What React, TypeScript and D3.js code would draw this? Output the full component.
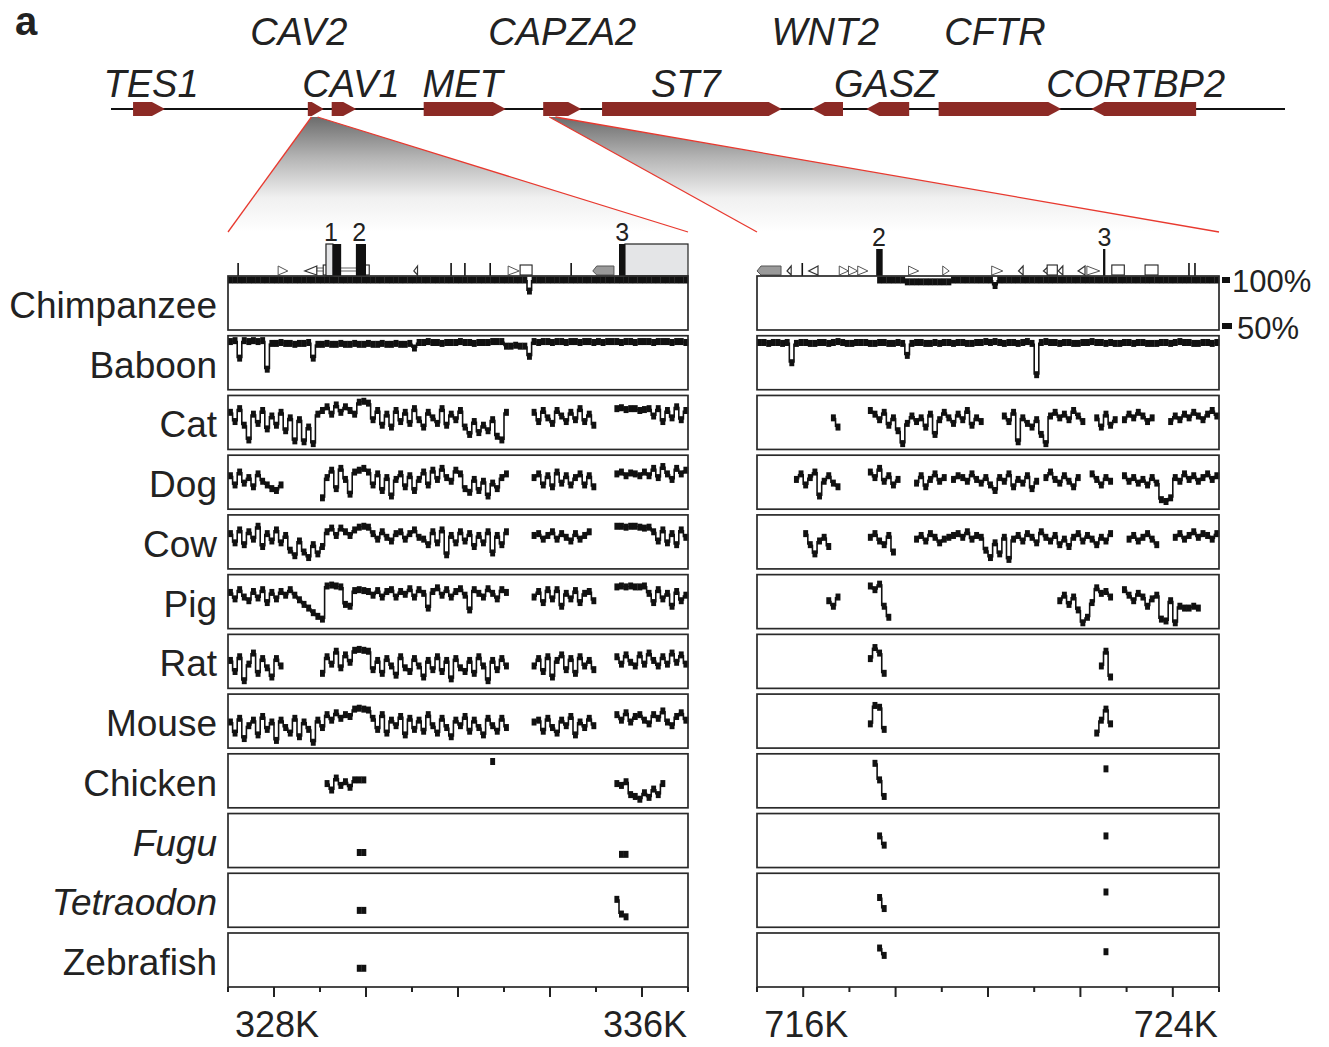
import React from "react";
import * as d3 from "d3";

const FONT = "'Liberation Sans', Arial, Helvetica, sans-serif";

const species = ["Chimpanzee", "Baboon", "Cat", "Dog", "Cow", "Pig", "Rat", "Mouse", "Chicken", "Fugu", "Tetraodon", "Zebrafish"];
const italicSpecies = ["Fugu", "Tetraodon"];

// gene track, positions in kb
const genes = [
  { name: "TES1", start: 36, end: 88, strand: 1, row: 2 },
  { name: "CAV2", start: 321, end: 347, strand: 1, row: 1 },
  { name: "CAV1", start: 360, end: 400, strand: 1, row: 2 },
  { name: "MET", start: 510, end: 644, strand: 1, row: 2 },
  { name: "CAPZA2", start: 705, end: 767, strand: 1, row: 1 },
  { name: "ST7", start: 801, end: 1094, strand: 1, row: 2 },
  { name: "WNT2", start: 1143, end: 1194, strand: -1, row: 1 },
  { name: "GASZ", start: 1232, end: 1302, strand: -1, row: 2 },
  { name: "CFTR", start: 1350, end: 1550, strand: 1, row: 1 },
  { name: "CORTBP2", start: 1599, end: 1770, strand: -1, row: 2 },
];
const trackExtent = [0, 1915];

// zoomed regions (kb) and their tick labels
const leftRegion = [327, 337];
const rightRegion = [715, 725];
const leftTickLabels = [328, 336];
const rightTickLabels = [716, 724];
const binKb = 0.1;

// annotation features above the panels (kb)
const leftExons = [[329.28, 329.46], [329.78, 330.0], [335.5, 335.63]];
const leftUtrs = [[329.13, 329.28], [335.63, 337.0]];
const leftTicks = [327.22, 331.85, 332.15, 332.7, 334.46, 336.96];
const leftRepFwd = [[328.09, 328.3], [333.09, 333.33]];
const leftRepRev = [[328.67, 328.93], [331.04, 331.12]];
const leftGrey = [[334.93, 335.39]];
const leftBoxes = [[329.07, 329.24], [329.9, 330.07], [333.35, 333.61]];
const leftTranscript = [[328.93, 330.05]];
const leftExonLabels = [{ t: "1", kb: 329.24 }, { t: "2", kb: 329.85 }, { t: "3", kb: 335.57 }];

const rightExons = [[717.58, 717.72], [722.49, 722.54]];
const rightGrey = [[715.0, 715.52]];
const rightTicks = [715.98, 724.35, 724.48];
const rightRepFwd = [[716.78, 716.98], [716.98, 717.18], [717.18, 717.4], [718.28, 718.5], [719.02, 719.16], [720.08, 720.32], [722.14, 722.42]];
const rightRepRev = [[715.65, 715.74], [716.12, 716.32], [720.66, 720.76], [721.2, 721.32], [721.52, 721.62], [721.95, 722.1]];
const rightBoxes = [[721.28, 721.5], [722.68, 722.95], [723.4, 723.68]];
const rightExonLabels = [{ t: "2", kb: 717.64 }, { t: "3", kb: 722.52 }];

// percent identity per 100 bp bin (0 = not aligned), left region 327-337K
const chimpL = [
  100,100,100,100,100,100,100,100,100,100, 100,100,100,100,100,100,100,100,100,100,
  100,100,100,100,100,100,100,100,100,100, 100,100,100,100,100,100,100,100,100,100,
  100,100,100,100,100,100,100,100,100,100, 100,100,100,100,100,100,100,100,100,100,
  100,100,100,100,100,88,100,100,100,100, 100,100,100,100,100,100,100,100,100,100,
  100,100,100,100,100,100,100,100,100,100, 100,100,100,100,100,100,100,100,100,100,
];
const baboonL = [
  98,99,80,99,98,99,98,99,68,96, 96,97,96,96,95,96,96,97,80,95,
  95,96,95,95,96,95,95,96,95,95, 96,95,95,96,95,95,96,95,95,96,
  91,97,97,98,97,97,96,97,97,97, 98,97,97,96,97,97,97,98,98,98,
  93,93,94,93,93,82,98,97,98,98, 97,98,98,97,98,98,97,98,98,97,
  98,97,98,98,98,97,98,98,97,98, 98,98,97,98,98,98,97,98,98,97,
];
const catL = [
  86,76,90,72,56,84,74,88,68,82, 72,86,66,80,55,78,54,70,52,84,
  88,92,84,94,86,92,88,84,97,98, 96,78,88,72,84,70,88,76,86,74,
  90,78,70,86,80,74,90,72,84,78, 88,70,62,76,64,72,66,78,60,56,
  86,0,0,0,0,0,86,76,88,80, 74,88,82,76,86,78,90,76,84,72,
  0,0,0,0,90,91,89,90,90,88, 89,90,82,90,76,88,80,92,78,88,
];
const dogL = [
  82,72,86,74,80,70,84,76,72,68, 66,72,0,0,0,0,0,0,0,0,
  58,80,88,68,90,78,62,86,88,90, 86,72,84,66,80,60,78,84,70,82,
  66,78,86,72,88,78,90,80,76,88, 84,68,64,78,66,76,60,74,68,80,
  84,0,0,0,0,0,80,84,72,82, 70,86,74,82,72,80,84,72,82,70,
  0,0,0,0,84,86,82,85,84,82, 86,82,90,80,92,84,78,90,84,88,
];
const cowL = [
  84,74,88,72,86,78,92,70,84,76, 88,74,82,66,60,76,64,58,72,62,
  70,86,90,82,90,86,82,88,91,92, 91,84,78,86,80,76,84,86,78,84,
  88,80,78,72,86,74,88,61,82,74, 86,76,84,70,82,74,86,63,82,72,
  86,0,0,0,0,0,82,84,78,82, 86,78,84,80,76,84,78,82,86,0,
  0,0,0,0,92,92,91,92,92,91, 90,91,86,76,88,74,84,72,88,80,
];
const pigL = [
  85,78,88,80,76,86,79,88,74,85, 78,86,82,88,82,77,72,68,63,59,
  56,92,93,92,91,72,70,87,88,87, 86,82,87,80,86,88,80,86,83,89,
  80,88,84,68,86,90,82,88,80,86, 89,82,66,88,84,80,89,84,78,88,
  85,0,0,0,0,0,80,86,74,88, 78,88,70,84,78,87,74,84,86,76,
  0,0,0,0,91,92,91,92,91,91, 92,84,74,88,78,84,70,86,76,82,
];
const ratL = [
  76,64,80,54,72,84,62,78,68,58, 78,70,0,0,0,0,0,0,0,0,
  62,80,72,86,68,82,74,87,88,87, 86,66,76,62,78,70,60,80,68,64,
  78,70,58,76,66,80,64,76,56,78, 68,64,76,62,80,70,54,76,66,78,
  70,0,0,0,0,0,70,78,64,80, 58,76,82,66,78,62,80,70,76,66,
  0,0,0,0,80,72,82,74,70,82, 72,84,76,70,80,72,84,74,82,72,
];
const mouseL = [
  74,62,78,56,70,76,60,80,66,74, 54,76,68,62,78,58,74,66,52,76,
  68,82,76,84,78,82,80,88,89,88, 87,78,66,82,62,76,70,80,60,78,
  66,76,64,82,70,62,78,68,58,76, 70,80,64,76,68,60,78,70,64,78,
  68,0,0,0,0,0,74,76,64,78, 68,62,76,70,80,60,74,68,78,70,
  0,0,0,0,82,76,84,74,80,82, 76,72,82,78,86,74,70,80,84,76,
];
const chickenL = [
  0,0,0,0,0,0,0,0,0,0, 0,0,0,0,0,0,0,0,0,0,
  0,72,65,78,70,74,68,76,76,76, 0,0,0,0,0,0,0,0,0,0,
  0,0,0,0,0,0,0,0,0,0, 0,0,0,0,0,0,0,96,0,0,
  0,0,0,0,0,0,0,0,0,0, 0,0,0,0,0,0,0,0,0,0,
  0,0,0,0,72,70,74,60,58,55, 62,57,66,60,72,0,0,0,0,0,
];
const fuguL = [
  0,0,0,0,0,0,0,0,0,0, 0,0,0,0,0,0,0,0,0,0,
  0,0,0,0,0,0,0,0,62,62, 0,0,0,0,0,0,0,0,0,0,
  0,0,0,0,0,0,0,0,0,0, 0,0,0,0,0,0,0,0,0,0,
  0,0,0,0,0,0,0,0,0,0, 0,0,0,0,0,0,0,0,0,0,
  0,0,0,0,0,60,60,0,0,0, 0,0,0,0,0,0,0,0,0,0,
];
const tetraodonL = [
  0,0,0,0,0,0,0,0,0,0, 0,0,0,0,0,0,0,0,0,0,
  0,0,0,0,0,0,0,0,64,64, 0,0,0,0,0,0,0,0,0,0,
  0,0,0,0,0,0,0,0,0,0, 0,0,0,0,0,0,0,0,0,0,
  0,0,0,0,0,0,0,0,0,0, 0,0,0,0,0,0,0,0,0,0,
  0,0,0,0,76,60,57,0,0,0, 0,0,0,0,0,0,0,0,0,0,
];
const zebrafishL = [
  0,0,0,0,0,0,0,0,0,0, 0,0,0,0,0,0,0,0,0,0,
  0,0,0,0,0,0,0,0,66,66, 0,0,0,0,0,0,0,0,0,0,
  0,0,0,0,0,0,0,0,0,0, 0,0,0,0,0,0,0,0,0,0,
  0,0,0,0,0,0,0,0,0,0, 0,0,0,0,0,0,0,0,0,0,
  0,0,0,0,0,0,0,0,0,0, 0,0,0,0,0,0,0,0,0,0,
];

// right region 715-725K
const chimpR = [
  0,0,0,0,0,0,0,0,0,0, 0,0,0,0,0,0,0,0,0,0,
  0,0,0,0,0,0,100,100,100,100, 100,100,98,98,98,98,98,98,98,98,
  98,98,100,100,100,100,100,100,100,100, 100,94,100,100,100,100,100,100,100,100,
  100,100,100,100,100,100,100,100,100,100, 100,100,100,100,100,100,100,100,100,100,
  100,100,100,100,100,100,100,100,100,100, 100,100,100,100,100,100,100,100,100,100,
];
const baboonR = [
  97,97,96,97,97,96,97,75,96,97, 97,96,96,97,97,96,97,98,97,96,
  96,97,97,97,96,96,97,97,96,96, 97,96,83,96,97,97,96,96,97,96,
  97,97,96,97,97,96,96,97,97,98, 97,98,97,96,97,97,96,97,98,96,
  62,97,98,97,97,96,97,97,96,96, 97,97,98,97,97,96,97,96,96,97,
  97,96,97,97,96,96,96,97,97,96, 97,98,97,97,96,96,97,97,96,97,
];
const catR = [
  0,0,0,0,0,0,0,0,0,0, 0,0,0,0,0,0,80,70,0,0,
  0,0,0,0,88,84,78,86,72,80, 66,52,74,82,76,80,70,84,62,78,
  86,80,74,84,78,88,72,80,76,0, 0,0,0,82,76,86,54,80,74,70,
  78,62,52,82,86,80,84,78,88,82, 76,0,0,80,70,84,72,78,0,78,
  84,80,86,82,76,80,0,0,0,76, 82,78,84,80,86,82,78,84,88,82,
];
const dogR = [
  0,0,0,0,0,0,0,0,78,84, 72,80,86,60,76,82,74,70,0,0,
  0,0,0,0,86,80,90,76,82,72, 78,0,0,0,74,82,70,78,84,76,
  80,0,78,82,80,76,84,78,74,80, 72,66,80,76,84,70,78,74,82,68,
  76,0,80,86,78,74,82,76,70,80, 0,0,84,78,72,80,76,0,0,82,
  76,80,74,78,72,80,74,56,54,58, 80,76,84,78,82,76,80,84,78,82,
];
const cowR = [
  0,0,0,0,0,0,0,0,0,0, 84,72,62,76,80,70,0,0,0,0,
  0,0,0,0,80,84,76,72,82,64, 0,0,0,0,78,82,76,84,80,74,
  78,80,82,84,80,86,78,82,80,66, 58,74,62,80,56,78,82,76,84,80,
  74,86,80,76,82,72,78,70,80,84, 76,82,78,72,80,76,84,0,0,0,
  78,82,76,80,84,78,72,0,0,0, 80,84,78,82,86,80,84,82,78,84,
];
const pigR = [
  0,0,0,0,0,0,0,0,0,0, 0,0,0,0,0,76,70,80,0,0,
  0,0,0,0,92,88,94,70,58,0, 0,0,0,0,0,0,0,0,0,0,
  0,0,0,0,0,0,0,0,0,0, 0,0,0,0,0,0,0,0,0,0,
  0,0,0,0,0,76,82,72,80,66, 52,58,74,90,84,86,80,0,0,88,
  82,76,84,80,70,78,82,56,54,76, 52,70,68,68,70,68,0,0,0,0,
];
const ratR = [
  0,0,0,0,0,0,0,0,0,0, 0,0,0,0,0,0,0,0,0,0,
  0,0,0,0,78,90,84,62,0,0, 0,0,0,0,0,0,0,0,0,0,
  0,0,0,0,0,0,0,0,0,0, 0,0,0,0,0,0,0,0,0,0,
  0,0,0,0,0,0,0,0,0,0, 0,0,0,0,70,86,58,0,0,0,
  0,0,0,0,0,0,0,0,0,0, 0,0,0,0,0,0,0,0,0,0,
];
const mouseR = [
  0,0,0,0,0,0,0,0,0,0, 0,0,0,0,0,0,0,0,0,0,
  0,0,0,0,72,92,90,66,0,0, 0,0,0,0,0,0,0,0,0,0,
  0,0,0,0,0,0,0,0,0,0, 0,0,0,0,0,0,0,0,0,0,
  0,0,0,0,0,0,0,0,0,0, 0,0,0,62,76,88,72,0,0,0,
  0,0,0,0,0,0,0,0,0,0, 0,0,0,0,0,0,0,0,0,0,
];
const chickenR = [
  0,0,0,0,0,0,0,0,0,0, 0,0,0,0,0,0,0,0,0,0,
  0,0,0,0,0,94,76,58,0,0, 0,0,0,0,0,0,0,0,0,0,
  0,0,0,0,0,0,0,0,0,0, 0,0,0,0,0,0,0,0,0,0,
  0,0,0,0,0,0,0,0,0,0, 0,0,0,0,0,88,0,0,0,0,
  0,0,0,0,0,0,0,0,0,0, 0,0,0,0,0,0,0,0,0,0,
];
const fuguR = [
  0,0,0,0,0,0,0,0,0,0, 0,0,0,0,0,0,0,0,0,0,
  0,0,0,0,0,0,80,70,0,0, 0,0,0,0,0,0,0,0,0,0,
  0,0,0,0,0,0,0,0,0,0, 0,0,0,0,0,0,0,0,0,0,
  0,0,0,0,0,0,0,0,0,0, 0,0,0,0,0,80,0,0,0,0,
  0,0,0,0,0,0,0,0,0,0, 0,0,0,0,0,0,0,0,0,0,
];
const tetraodonR = [
  0,0,0,0,0,0,0,0,0,0, 0,0,0,0,0,0,0,0,0,0,
  0,0,0,0,0,0,78,66,0,0, 0,0,0,0,0,0,0,0,0,0,
  0,0,0,0,0,0,0,0,0,0, 0,0,0,0,0,0,0,0,0,0,
  0,0,0,0,0,0,0,0,0,0, 0,0,0,0,0,84,0,0,0,0,
  0,0,0,0,0,0,0,0,0,0, 0,0,0,0,0,0,0,0,0,0,
];
const zebrafishR = [
  0,0,0,0,0,0,0,0,0,0, 0,0,0,0,0,0,0,0,0,0,
  0,0,0,0,0,0,88,80,0,0, 0,0,0,0,0,0,0,0,0,0,
  0,0,0,0,0,0,0,0,0,0, 0,0,0,0,0,0,0,0,0,0,
  0,0,0,0,0,0,0,0,0,0, 0,0,0,0,0,84,0,0,0,0,
  0,0,0,0,0,0,0,0,0,0, 0,0,0,0,0,0,0,0,0,0,
];

const leftSeries = [chimpL, baboonL, catL, dogL, cowL, pigL, ratL, mouseL, chickenL, fuguL, tetraodonL, zebrafishL];
const rightSeries = [chimpR, baboonR, catR, dogR, cowR, pigR, ratR, mouseR, chickenR, fuguR, tetraodonR, zebrafishR];

const GENE_RED = "#8c2a25";
const labelDx = { TES1: 2, CAV2: -17, CAV1: 7, MET: -2, CAPZA2: 0, ST7: -6, WNT2: -2, GASZ: -2, CFTR: -5, CORTBP2: -8 };

function genePath(x0, x1, strand, yc, h) {
  const w = x1 - x0;
  const tip = Math.min(13, w * 0.75);
  const t = yc - h / 2, b = yc + h / 2;
  if (strand > 0) return `M${x0},${t}L${x1 - tip},${t}L${x1},${yc}L${x1 - tip},${b}L${x0},${b}Z`;
  return `M${x1},${t}L${x0 + tip},${t}L${x0},${yc}L${x0 + tip},${b}L${x1},${b}Z`;
}

function Series({ vals, start, xs, y }) {
  const out = [];
  vals.forEach((v, i) => {
    if (!v) return;
    const a = xs(start + i * binKb);
    const b = xs(start + (i + 1) * binKb);
    out.push(<rect key={"r" + i} x={a} y={y(v) - 3.5} width={b - a + 0.3} height={7} fill="#111" />);
    const nv = vals[i + 1];
    if (nv) out.push(<line key={"l" + i} x1={b} x2={b} y1={y(v)} y2={y(nv)} stroke="#111" strokeWidth={1.6} />);
  });
  return <g>{out}</g>;
}

function Annotation({ xs, exons, utrs, ticks, repFwd, repRev, grey, boxes, transcript, labels, exonTop }) {
  const base = 276;
  return (
    <g>
      {(transcript || []).map(([a, b], i) => (
        <rect key={"tr" + i} x={xs(a)} y={base - 8} width={xs(b) - xs(a)} height={3} fill="#fff" stroke="#555" strokeWidth={0.9} />
      ))}
      {ticks.map((t, i) => (
        <line key={"t" + i} x1={xs(t)} x2={xs(t)} y1={base - 13} y2={base} stroke="#111" strokeWidth={1.6} />
      ))}
      {repFwd.map(([a, b], i) => (
        <path key={"f" + i} d={`M${xs(a)},${base - 10}L${xs(b)},${base - 5}L${xs(a)},${base - 1}Z`} fill="#fff" stroke="#555" strokeWidth={1} />
      ))}
      {repRev.map(([a, b], i) => (
        <path key={"v" + i} d={`M${xs(b)},${base - 10}L${xs(a)},${base - 5}L${xs(b)},${base - 1}Z`} fill="#fff" stroke="#333" strokeWidth={1.2} />
      ))}
      {grey.map(([a, b], i) => (
        <path key={"g" + i} d={`M${xs(b)},${base - 10}L${xs(a) + 4},${base - 10}L${xs(a)},${base - 5}L${xs(a) + 4},${base - 1}L${xs(b)},${base - 1}Z`} fill="#9a9a9a" stroke="#555" strokeWidth={1} />
      ))}
      {boxes.map(([a, b], i) => (
        <rect key={"b" + i} x={xs(a)} y={base - 11} width={xs(b) - xs(a)} height={10} fill="#fff" stroke="#222" strokeWidth={1.1} />
      ))}
      {(utrs || []).map(([a, b], i) => (
        <rect key={"u" + i} x={xs(a)} y={exonTop} width={xs(b) - xs(a)} height={base - exonTop} fill="#e4e5e7" stroke="#222" strokeWidth={1.2} />
      ))}
      {exons.map(([a, b], i) => (
        <rect key={"e" + i} x={xs(a)} y={exonTop} width={Math.max(2, xs(b) - xs(a))} height={base - exonTop} fill="#111" />
      ))}
      {labels.map((l, i) => (
        <text key={"n" + i} x={xs(l.kb)} y={exonTop - 3} textAnchor="middle" fontSize={25} fontFamily={FONT} fill="#222">{l.t}</text>
      ))}
    </g>
  );
}

export default function App() {
  const xTrack = d3.scaleLinear().domain(trackExtent).range([111, 1285]);
  const band = d3.scaleBand().domain(species).range([276, 987]).paddingInner(0.0958);
  const bw = band.bandwidth();

  const panels = [
    { region: leftRegion, range: [228, 688], series: leftSeries, tickLabels: leftTickLabels },
    { region: rightRegion, range: [757, 1219], series: rightSeries, tickLabels: rightTickLabels },
  ];
  const yFor = (sp) => {
    const top = band(sp);
    return d3.scaleLinear().domain([50, 100]).range([top + 50, top + 4]);
  };
  const axisY = band("Zebrafish") + bw;
  const chimpY = yFor("Chimpanzee");

  const xsL = d3.scaleLinear().domain(leftRegion).range(panels[0].range);
  const xsR = d3.scaleLinear().domain(rightRegion).range(panels[1].range);

  return (
    <svg width={1329} height={1047} style={{ position: "absolute", left: 0, top: 0, background: "#fff" }} fontFamily={FONT}>
      <defs>
        <linearGradient id="fade" gradientUnits="userSpaceOnUse" x1={0} y1={117} x2={0} y2={232}>
          <stop offset="0" stopColor="#6c6c6c" />
          <stop offset="0.35" stopColor="#b4b4b4" />
          <stop offset="0.7" stopColor="#f0f0f0" />
          <stop offset="1" stopColor="#ffffff" />
        </linearGradient>
      </defs>

      <text x={15} y={35} fontSize={40} fontWeight="bold" fill="#222">a</text>

      {/* zoom trapezoids */}
      {panels.map((p, i) => {
        const a = xTrack(p.region[0]), b = xTrack(p.region[1]);
        const [l, r] = p.range;
        return (
          <g key={"z" + i}>
            <path d={`M${a},117L${b},117L${r},232L${l},232Z`} fill="url(#fade)" />
            <line x1={a} y1={117} x2={l} y2={232} stroke="#e8392f" strokeWidth={1.3} />
            <line x1={b} y1={117} x2={r} y2={232} stroke="#e8392f" strokeWidth={1.3} />
          </g>
        );
      })}

      {/* gene track */}
      <line x1={xTrack(trackExtent[0])} x2={xTrack(trackExtent[1])} y1={109} y2={109} stroke="#111" strokeWidth={2.2} />
      {genes.map((g) => (
        <path key={g.name} d={genePath(xTrack(g.start), xTrack(g.end), g.strand, 109, 14)} fill={GENE_RED} />
      ))}
      {genes.map((g) => (
        <text key={"lab" + g.name} x={(xTrack(g.start) + xTrack(g.end)) / 2 + labelDx[g.name]} y={g.row === 1 ? 45 : 97}
          textAnchor="middle" fontSize={38} fontStyle="italic" fill="#222">{g.name}</text>
      ))}

      {/* annotation tracks */}
      <Annotation xs={xsL} exons={leftExons} utrs={leftUtrs} ticks={leftTicks} repFwd={leftRepFwd} repRev={leftRepRev}
        grey={leftGrey} boxes={leftBoxes} transcript={leftTranscript} labels={leftExonLabels} exonTop={244} />
      <Annotation xs={xsR} exons={rightExons} ticks={rightTicks} repFwd={rightRepFwd} repRev={rightRepRev}
        grey={rightGrey} boxes={rightBoxes} labels={rightExonLabels} exonTop={249} />

      {/* species labels */}
      {species.map((sp) => (
        <text key={"sp" + sp} x={217} y={band(sp) + 42} textAnchor="end" fontSize={37}
          fontStyle={italicSpecies.includes(sp) ? "italic" : "normal"} fill="#222">{sp}</text>
      ))}

      {/* conservation panels */}
      {panels.map((p, pi) => {
        const xs = pi === 0 ? xsL : xsR;
        return (
          <g key={"p" + pi}>
            {species.map((sp, si) => (
              <g key={sp}>
                <Series vals={p.series[si]} start={p.region[0]} xs={xs} y={yFor(sp)} />
                <rect x={p.range[0]} y={band(sp)} width={p.range[1] - p.range[0]} height={bw} fill="none" stroke="#2a2a2a" strokeWidth={1.7} />
              </g>
            ))}
            {xs.ticks(10).map((t) => {
              const major = t % 2 === 0;
              return <line key={"tk" + t} x1={xs(t)} x2={xs(t)} y1={axisY} y2={axisY + (major ? 10 : 5)} stroke="#222" strokeWidth={2} />;
            })}
            {p.tickLabels.map((t) => (
              <text key={"tl" + t} x={xs(t) + 3} y={1037} textAnchor="middle" fontSize={36} fill="#222">{t}K</text>
            ))}
          </g>
        );
      })}

      {/* percent scale */}
      <rect x={1222} y={chimpY(100) - 3} width={8} height={6} fill="#111" />
      <text x={1232} y={chimpY(100) + 12} fontSize={31} fill="#222">100%</text>
      <rect x={1222} y={chimpY(50) - 3} width={10} height={6} fill="#111" />
      <text x={1237} y={chimpY(50) + 13} fontSize={31} fill="#222">50%</text>
    </svg>
  );
}
